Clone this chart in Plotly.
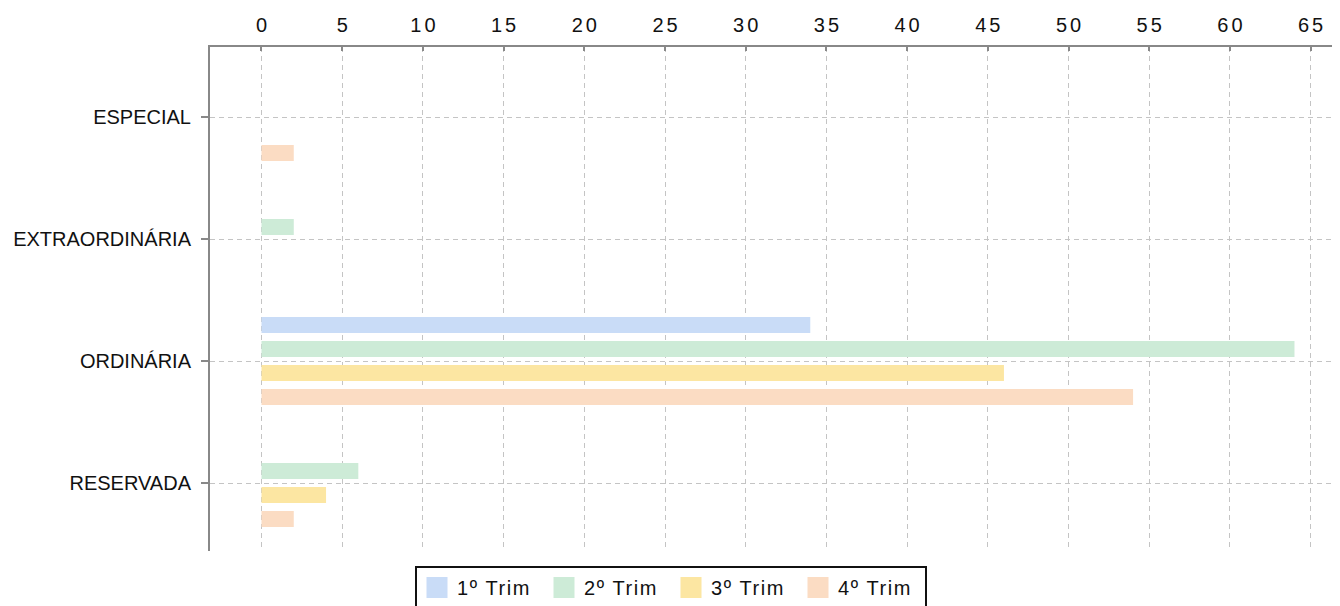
import plotly.graph_objects as go

categories = ["ESPECIAL", "EXTRAORDINÁRIA", "ORDINÁRIA", "RESERVADA"]
series_names = ["1º Trim", "2º Trim", "3º Trim", "4º Trim"]
trim1 = [0, 0, 34, 0]
trim2 = [0, 2, 64, 6]
trim3 = [0, 0, 46, 4]
trim4 = [2, 0, 54, 2]
tick_values = list(range(0, 70, 5))
tick_labels = [str(v) for v in tick_values]

colors = ["#c9dcf7", "#cdebd7", "#fce6a2", "#fbdcc3"]
FONT = "Liberation Sans, Arial, sans-serif"

# page body has an 8px default margin, so the figure is sized to fit the window
W, H = 1332, 598

fig = go.Figure()
for name, vals, col in zip(series_names, [trim1, trim2, trim3, trim4], colors):
    fig.add_trace(go.Bar(
        name=name, y=categories, x=vals, orientation="h",
        marker=dict(color=col, line=dict(width=0)),
        showlegend=False, hoverinfo="x+y",
    ))
# legend entries (larger square swatches)
for name, col in zip(series_names, colors):
    fig.add_trace(go.Scatter(
        name=name, x=[None], y=[None], mode="markers",
        marker=dict(symbol="square", size=16, color=col,
                    line=dict(color=col, width=5)),
        showlegend=True,
    ))

fig.update_layout(
    width=W, height=H,
    margin=dict(l=202, r=0, t=39, b=55, autoexpand=False),
    paper_bgcolor="white", plot_bgcolor="white",
    barmode="group", bargap=0.213, bargroupgap=0.333,
    font=dict(family=FONT, size=20, color="#111111"),
    legend=dict(
        orientation="h", xref="container", yref="container",
        x=663 / W, xanchor="center", y=1 - 558 / H, yanchor="top",
        bordercolor="#111111", borderwidth=2,
        font=dict(family=FONT, size=20, color="#111111"),
        entrywidth=82, itemclick=False,
    ),
    xaxis=dict(
        side="top", range=[-3.19, 66.82],
        tickmode="array", tickvals=tick_values, ticktext=tick_labels,
        showline=True, linecolor="#888888", linewidth=2,
        ticks="inside", ticklen=4, tickcolor="#888888", tickwidth=2,
        showgrid=True, gridcolor="#c4c4c4", gridwidth=1, griddash="5px,4px",
        zeroline=False, ticklabelstandoff=5,
        tickfont=dict(family=FONT, size=20, color="#111111"),
        automargin=False,
    ),
    yaxis=dict(
        type="category", categoryorder="array", categoryarray=categories,
        range=[3.557, -0.574],
        showline=True, linecolor="#888888", linewidth=2,
        ticks="outside", ticklen=7, tickcolor="#888888", tickwidth=2,
        showgrid=True, gridcolor="#c4c4c4", gridwidth=1, griddash="5px,4px",
        zeroline=False, ticklabelstandoff=6,
        tickfont=dict(family=FONT, size=20, color="#111111"),
        automargin=False,
    ),
)

post = """
var gd = document.getElementById('{plot_id}');
function spacing(){
  gd.querySelectorAll('.xtick text').forEach(function(t){
    t.style.letterSpacing = '3px';
    t.setAttribute('dx', '1.5');
  });
  gd.querySelectorAll('.legendtext').forEach(function(t){
    t.style.letterSpacing = '1.6px';
  });
}
spacing();
gd.on && gd.on('plotly_afterplot', spacing);
"""

fig.write_html("out.html", post_script=post)
